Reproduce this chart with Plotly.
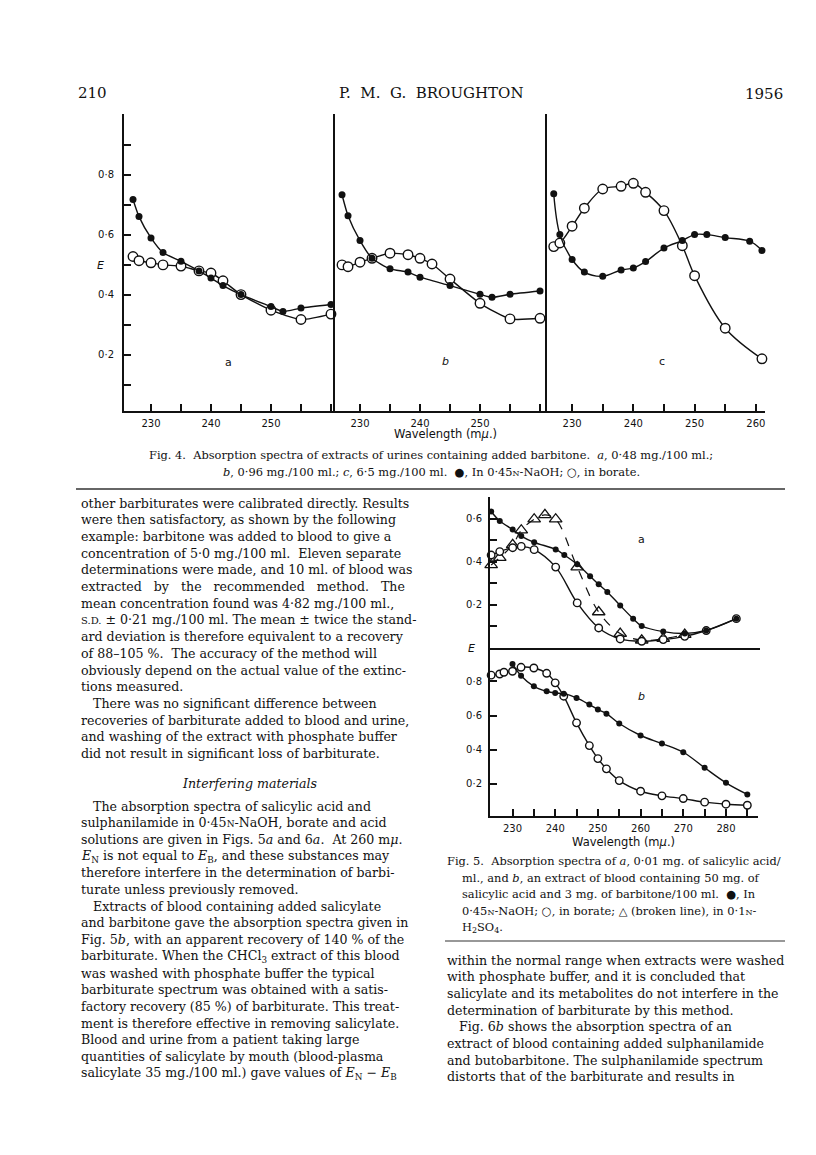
import plotly.graph_objects as go

W, H = 816, 1155

# ---- Fig. 4 data (wavelength in mμ, extinction E) ----
f4a_wl_naoh = [227, 228, 230, 232, 235, 238, 240, 242, 245, 250, 252, 255, 260]
f4a_e_naoh = [0.718, 0.661, 0.590, 0.541, 0.512, 0.480, 0.456, 0.431, 0.401, 0.361, 0.345, 0.356, 0.368]
f4a_wl_borate = [227, 228, 230, 232, 235, 238, 240, 242, 245, 250, 255, 260]
f4a_e_borate = [0.528, 0.514, 0.507, 0.500, 0.496, 0.480, 0.473, 0.447, 0.401, 0.349, 0.318, 0.336]

f4b_wl_naoh = [227, 228, 230, 232, 235, 238, 240, 245, 250, 252, 255, 260]
f4b_e_naoh = [0.734, 0.664, 0.581, 0.522, 0.487, 0.476, 0.459, 0.431, 0.402, 0.392, 0.402, 0.413]
f4b_wl_borate = [227, 228, 230, 232, 235, 238, 240, 242, 245, 250, 255, 260]
f4b_e_borate = [0.500, 0.494, 0.509, 0.522, 0.539, 0.534, 0.522, 0.503, 0.453, 0.372, 0.320, 0.322]

f4c_wl_naoh = [227, 228, 230, 232, 235, 238, 240, 242, 245, 248, 250, 252, 255, 259, 261]
f4c_e_naoh = [0.737, 0.601, 0.518, 0.476, 0.462, 0.483, 0.490, 0.511, 0.556, 0.581, 0.601, 0.601, 0.591, 0.579, 0.548]
f4c_wl_borate = [227, 228, 230, 232, 235, 238, 240, 242, 245, 248, 250, 255, 261]
f4c_e_borate = [0.561, 0.573, 0.629, 0.689, 0.753, 0.762, 0.772, 0.742, 0.681, 0.564, 0.464, 0.289, 0.187]

# ---- Fig. 5 data ----
f5a_wl_naoh = [225, 227, 230, 232, 235, 240, 242, 245, 248, 250, 252, 255, 258, 260, 265, 270, 275, 282]
f5a_e_naoh = [0.633, 0.589, 0.549, 0.519, 0.490, 0.457, 0.431, 0.388, 0.333, 0.295, 0.260, 0.197, 0.136, 0.102, 0.076, 0.067, 0.081, 0.136]
f5a_wl_borate = [225, 227, 230, 232, 235, 240, 245, 250, 255, 260, 265, 270, 275, 282]
f5a_e_borate = [0.431, 0.447, 0.465, 0.471, 0.456, 0.375, 0.209, 0.093, 0.042, 0.031, 0.039, 0.054, 0.081, 0.136]
f5a_wl_acid = [225, 227, 230, 232, 235, 237.5, 240, 245, 250, 255, 260, 265, 270]
f5a_e_acid = [0.385, 0.419, 0.478, 0.546, 0.597, 0.617, 0.597, 0.375, 0.167, 0.067, 0.036, 0.043, 0.062]

f5b_wl_naoh = [230, 232, 235, 238, 240, 242, 245, 248, 250, 252, 255, 260, 265, 270, 275, 280, 285]
f5b_e_naoh = [0.902, 0.833, 0.771, 0.742, 0.732, 0.728, 0.703, 0.664, 0.635, 0.611, 0.553, 0.483, 0.436, 0.385, 0.294, 0.206, 0.138]
f5b_wl_borate = [225, 227, 228, 230, 232, 235, 238, 240, 242, 245, 248, 250, 252, 255, 260, 265, 270, 275, 280, 285]
f5b_e_borate = [0.836, 0.843, 0.853, 0.859, 0.882, 0.878, 0.847, 0.791, 0.713, 0.557, 0.424, 0.348, 0.288, 0.219, 0.157, 0.130, 0.114, 0.093, 0.081, 0.075]

# ticks: labelled (major) and unlabelled (minor)
f4_x_major = [230, 240, 250]
f4c_x_major = [230, 240, 250, 260]
f4_x_minor = [235, 245, 255, 260]
f4c_x_minor = [235, 245, 255]
f4_y_major = [0.2, 0.4, 0.6, 0.8]
f4_y_minor = [0.1, 0.3, 0.5, 0.7, 0.9]
f5_x_major = [230, 240, 250, 260, 270, 280]
f5_x_minor = [235, 245, 255, 265, 275, 285]
f5a_y_major = [0.2, 0.4, 0.6]
f5a_y_minor = [0.1, 0.3, 0.5, 0.7]
f5b_y_major = [0.2, 0.4, 0.6, 0.8]

# ---- page text ----
left_block1 = [
    "other barbiturates were calibrated directly. Results",
    "were then satisfactory, as shown by the following",
    "example: barbitone was added to blood to give a",
    "concentration of 5·0 mg./100 ml.  Eleven separate",
    "determinations were made, and 10 ml. of blood was",
    "extracted   by   the   recommended   method.   The",
    "mean concentration found was 4·82 mg./100 ml.,",
    "<span style='font-size:10px'>S.D.</span> ± 0·21 mg./100 ml. The mean ± twice the stand-",
    "ard deviation is therefore equivalent to a recovery",
    "of 88–105 %.  The accuracy of the method will",
    "obviously depend on the actual value of the extinc-",
    "tions measured.",
    "   There was no significant difference between",
    "recoveries of barbiturate added to blood and urine,",
    "and washing of the extract with phosphate buffer",
    "did not result in significant loss of barbiturate.",
]
left_block2 = [
    "   The absorption spectra of salicylic acid and",
    "sulphanilamide in 0·45<span style='font-size:9px'>N</span>-NaOH, borate and acid",
    "solutions are given in Figs. 5<i>a</i> and 6<i>a</i>.  At 260 m<i>μ</i>.",
    "<i>E</i><sub>N</sub> is not equal to <i>E</i><sub>B</sub>, and these substances may",
    "therefore interfere in the determination of barbi-",
    "turate unless previously removed.",
    "   Extracts of blood containing added salicylate",
    "and barbitone gave the absorption spectra given in",
    "Fig. 5<i>b</i>, with an apparent recovery of 140 % of the",
    "barbiturate. When the CHCl<sub>3</sub> extract of this blood",
    "was washed with phosphate buffer the typical",
    "barbiturate spectrum was obtained with a satis-",
    "factory recovery (85 %) of barbiturate. This treat-",
    "ment is therefore effective in removing salicylate.",
    "Blood and urine from a patient taking large",
    "quantities of salicylate by mouth (blood-plasma",
    "salicylate 35 mg./100 ml.) gave values of <i>E</i><sub>N</sub> − <i>E</i><sub>B</sub>",
]
fig4_caption = [
    "Fig. 4.  Absorption spectra of extracts of urines containing added barbitone.  <i>a</i>, 0·48 mg./100 ml.;",
    "<i>b</i>, 0·96 mg./100 ml.; <i>c</i>, 6·5 mg./100 ml.  ●, In 0·45<span style='font-size:8px'>N</span>-NaOH; ○, in borate.",
]
fig5_caption = [
    "Fig. 5.  Absorption spectra of <i>a</i>, 0·01 mg. of salicylic acid/",
    "ml., and <i>b</i>, an extract of blood containing 50 mg. of",
    "salicylic acid and 3 mg. of barbitone/100 ml.  ●, In",
    "0·45<span style='font-size:8px'>N</span>-NaOH; ○, in borate; △ (broken line), in 0·1<span style='font-size:8px'>N</span>-",
    "H<sub>2</sub>SO<sub>4</sub>.",
]
right_block = [
    "within the normal range when extracts were washed",
    "with phosphate buffer, and it is concluded that",
    "salicylate and its metabolites do not interfere in the",
    "determination of barbiturate by this method.",
    "   Fig. 6<i>b</i> shows the absorption spectra of an",
    "extract of blood containing added sulphanilamide",
    "and butobarbitone. The sulphanilamide spectrum",
    "distorts that of the barbiturate and results in",
]

SERIF = "DejaVu Serif"
SANS = "DejaVu Sans"
INK = "#111111"


def px(x):
    return x / W


def py(y):
    return 1 - y / H


def dom_x(a, b):
    return [px(a), px(b)]


def dom_y(top, bottom):
    return [py(bottom), py(top)]


def dot(vals):
    return [("%g" % v).replace(".", "·") for v in vals]


fig = go.Figure()

filled = dict(symbol="circle", size=7, color=INK)
hollow = dict(symbol="circle", size=9.5, color="white", line=dict(color=INK, width=1.4))
line = dict(color=INK, width=1.4, shape="spline", smoothing=0.6)
smooth = dict(line, smoothing=1.0)


def series(x, y, ax, marker, ln=None):
    fig.add_trace(go.Scatter(
        x=x, y=y, xaxis="x" + ax, yaxis="y" + ax, mode="lines+markers",
        marker=marker, line=ln or line, cliponaxis=False, showlegend=False,
        hoverinfo="skip",
    ))


# Fig. 4 panels (open series first so filled dots sit inside circled points)
series(f4a_wl_borate, f4a_e_borate, "", hollow)
series(f4a_wl_naoh, f4a_e_naoh, "", filled)
series(f4b_wl_borate, f4b_e_borate, "2", hollow)
series(f4b_wl_naoh, f4b_e_naoh, "2", filled)
series(f4c_wl_borate, f4c_e_borate, "3", hollow, smooth)
series(f4c_wl_naoh, f4c_e_naoh, "3", filled, smooth)

# Fig. 5
small_filled = dict(filled, size=6)
small_hollow = dict(hollow, size=7.5)
tri = dict(symbol="triangle-up-open", size=11, color=INK, line=dict(width=1.3))
series(f5a_wl_acid, f5a_e_acid, "4", tri, dict(smooth, dash="dash", width=1.2))
series(f5a_wl_borate, f5a_e_borate, "4", small_hollow, smooth)
series(f5a_wl_naoh, f5a_e_naoh, "4", small_filled, smooth)
series(f5b_wl_borate, f5b_e_borate, "5", small_hollow, smooth)
series(f5b_wl_naoh, f5b_e_naoh, "5", small_filled, smooth)

axis_base = dict(showgrid=False, zeroline=False, showline=True, linecolor=INK,
                 linewidth=2, tickcolor=INK, ticklen=7, tickwidth=1.5,
                 tickfont=dict(family=SANS, size=10, color=INK), fixedrange=True)


def minor(vals):
    return dict(tickmode="array", tickvals=vals, ticks="inside", ticklen=7,
                tickwidth=1.5, tickcolor=INK, showgrid=False)


f4_ydom = dom_y(106, 403)
f4_yrange = [0.013, 1.003]

layout_axes = {}
for key, d, rng, major, mnr in [("", (116, 327), [225.5, 260.67], f4_x_major, f4_x_minor),
                                ("2", (327, 540), [225.83, 261.33], f4_x_major, f4_x_minor),
                                ("3", (539, 757), [225.9, 261.5], f4c_x_major, f4c_x_minor)]:
    layout_axes["xaxis" + key] = dict(axis_base, domain=dom_x(*d), range=rng,
                                      anchor="y" + key, ticks="inside",
                                      tickvals=major, ticktext=dot(major),
                                      minor=minor(mnr), ticklabelstandoff=2)
    layout_axes["yaxis" + key] = dict(axis_base, domain=f4_ydom, range=f4_yrange,
                                      anchor="x" + key, ticks="",
                                      showticklabels=False)
layout_axes["yaxis"].update(ticks="inside", showticklabels=True,
                            tickvals=f4_y_major, ticktext=dot(f4_y_major),
                            minor=minor(f4_y_minor), ticklabelstandoff=6)

f5_xrange = [224.73, 287.5]
layout_axes["xaxis4"] = dict(axis_base, domain=dom_x(482, 752), range=f5_xrange,
                             anchor="y4", ticks="", showticklabels=False)
layout_axes["yaxis4"] = dict(axis_base, domain=dom_y(489, 640), range=[0, 0.7],
                             anchor="x4", ticks="inside", tickvals=f5a_y_major,
                             ticktext=dot(f5a_y_major), minor=minor(f5a_y_minor),
                             ticklabelstandoff=4)
layout_axes["xaxis5"] = dict(axis_base, domain=dom_x(482, 750), range=f5_xrange,
                             anchor="y5", ticks="inside", tickvals=f5_x_major,
                             ticktext=dot(f5_x_major), minor=minor(f5_x_minor),
                             ticklabelstandoff=2)
layout_axes["yaxis5"] = dict(axis_base, domain=dom_y(640, 808), range=[0.012, 0.995],
                             anchor="x5", ticks="inside", tickvals=f5b_y_major,
                             ticktext=dot(f5b_y_major), ticklabelstandoff=4)

ann = []


def text(x, y, s, size=12.6, family=SERIF, anchor="left"):
    ann.append(dict(x=px(x), y=py(y), xref="paper", yref="paper", text=s,
                    showarrow=False, xanchor=anchor, yanchor="middle",
                    font=dict(family=family, size=size, color=INK)))


# running head
text(68, 85, "210", 15)
text(423, 85, "P.  M.  G.  BROUGHTON", 15, anchor="center")
text(777, 86, "1956", 15, anchor="right")

# Fig. 4 labels
text(92, 257, "<i>E</i>", 11, SANS, "center")
text(220, 355, "a", 11, SANS, "center")
text(437, 353, "<i>b</i>", 11, SANS, "center")
text(654, 353, "c", 11, SANS, "center")
text(437, 426, "Wavelength (m<i>μ</i>.)", 11.5, SANS, "center")
for i, s in enumerate(fig4_caption):
    text(423, 447 + 17 * i, s, 11.4, anchor="center")

# Fig. 5 labels
text(463, 640, "<i>E</i>", 11, SANS, "center")
text(633, 531, "a", 11, SANS, "center")
text(633, 688, "<i>b</i>", 11, SANS, "center")
text(615, 834, "Wavelength (m<i>μ</i>.)", 11.5, SANS, "center")
for i, s in enumerate(fig5_caption):
    text(437 if i == 0 else 452, 853 + 16.7 * i, s, 11.4)

# body text
for i, s in enumerate(left_block1):
    text(71, 495 + 16.7 * i, s)
text(242, 775, "<i>Interfering materials</i>", 12.6, anchor="center")
for i, s in enumerate(left_block2):
    text(71, 798 + 16.7 * i, s)
for i, s in enumerate(right_block):
    text(437, 952 + 16.7 * i, s)

shapes = [
    dict(type="line", xref="paper", yref="paper", x0=px(68), x1=px(777),
         y0=py(481), y1=py(481), line=dict(color="#333333", width=1.5)),
    dict(type="line", xref="paper", yref="paper", x0=px(437), x1=px(777),
         y0=py(933), y1=py(933), line=dict(color="#333333", width=1.2)),
]

fig.update_layout(
    width=W, height=H,
    margin=dict(l=0, r=0, t=0, b=0),
    paper_bgcolor="white", plot_bgcolor="rgba(0,0,0,0)",
    showlegend=False,
    annotations=ann, shapes=shapes,
    **layout_axes,
)

fig.write_html("out.html")
